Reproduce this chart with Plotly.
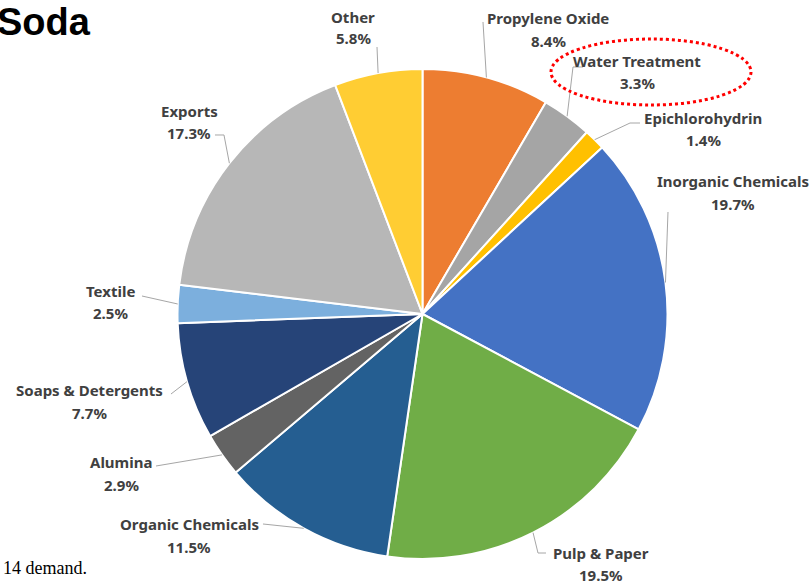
import math
import plotly.graph_objects as go

W, H = 811, 584

categories = ["Propylene Oxide", "Water Treatment", "Epichlorohydrin", "Inorganic Chemicals",
              "Pulp & Paper", "Organic Chemicals", "Alumina", "Soaps & Detergents",
              "Textile", "Exports", "Other"]
shares = [8.4, 3.3, 1.4, 19.7, 19.5, 11.5, 2.9, 7.7, 2.5, 17.3, 5.8]
colors = ["#ED7D31", "#A5A5A5", "#FFC000", "#4472C4", "#70AD47", "#255E91",
          "#636363", "#264478", "#7CAFDD", "#B7B7B7", "#FFCD33"]

# label layout (pixel positions: text center x, name y, pct y, leader start, optional elbow)
label_pos = {
    "Propylene Oxide": (548, 18, 41, (483, 22), None),
    "Water Treatment": (637, 61, 83, (583, 67), (573, 67)),
    "Epichlorohydrin": (703, 118, 140, (640, 123), (630, 123)),
    "Inorganic Chemicals": (733, 181, 204, (668, 212), None),
    "Pulp & Paper": (601, 553, 575, (546, 553), (538, 553)),
    "Organic Chemicals": (189, 524, 547, (263, 524), None),
    "Alumina": (121, 462, 485, (156, 466), None),
    "Soaps & Detergents": (89, 390, 413, (171, 394), None),
    "Textile": (110, 291, 313, (142, 296), None),
    "Exports": (189, 111, 133, (215, 135), (224, 135)),
    "Other": (353, 17, 38, (377, 47), None),
}

CX, CY, R = 422.5, 314, 245

def px(x):
    return x / W

def py(y):
    return 1 - y / H

fig = go.Figure(go.Pie(
    labels=categories, values=shares, sort=False, direction="clockwise", rotation=0,
    marker=dict(colors=colors, line=dict(color="white", width=2)),
    textinfo="none", hoverinfo="label+percent", showlegend=False,
    domain=dict(x=[px(CX - R), px(CX + R)], y=[py(CY + R), py(CY - R)]),
))

annotations = []
shapes = []
total = sum(shares)
cum = 0.0
label_font = dict(family="Noto Sans", size=15, color="#404040", weight="bold")
for name, v in zip(categories, shares):
    mid = (cum + v / 2) / total * 2 * math.pi
    cum += v
    ex = CX + R * math.sin(mid)
    ey = CY - R * math.cos(mid)
    tx, ny, pyy, start, elbow = label_pos[name]
    annotations.append(dict(x=px(tx), y=py(ny), xref="paper", yref="paper", text=name,
                            showarrow=False, font=label_font, xanchor="center", yanchor="middle"))
    annotations.append(dict(x=px(tx), y=py(pyy), xref="paper", yref="paper", text=f"{v:.1f}%",
                            showarrow=False, font=label_font, xanchor="center", yanchor="middle"))
    pts = [start] + ([elbow] if elbow else []) + [(ex, ey)]
    path = "M " + " L ".join(f"{px(a):.5f},{py(b):.5f}" for a, b in pts)
    shapes.append(dict(type="path", path=path, xref="paper", yref="paper",
                       line=dict(color="#A6A6A6", width=1)))

# highlight ellipse
shapes.append(dict(type="circle", xref="paper", yref="paper",
                   x0=px(551), x1=px(751), y0=py(105), y1=py(39),
                   line=dict(color="#FF0000", width=3, dash="dot")))

annotations.append(dict(x=px(-5), y=py(22), xref="paper", yref="paper", text="<b>Soda</b>",
                        showarrow=False, xanchor="left", yanchor="middle",
                        font=dict(family="Liberation Sans", size=38, color="#000000")))
annotations.append(dict(x=px(1), y=py(568), xref="paper", yref="paper", text="14 demand.",
                        showarrow=False, xanchor="left", yanchor="middle",
                        font=dict(family="Liberation Serif", size=18, color="#000000")))

fig.update_layout(width=W, height=H, margin=dict(l=0, r=0, t=0, b=0),
                  paper_bgcolor="white", plot_bgcolor="white",
                  annotations=annotations, shapes=shapes)

fig.write_html("out.html", config={"displayModeBar": False},
               post_script="document.body.style.margin='0';document.body.style.overflow='hidden';")
